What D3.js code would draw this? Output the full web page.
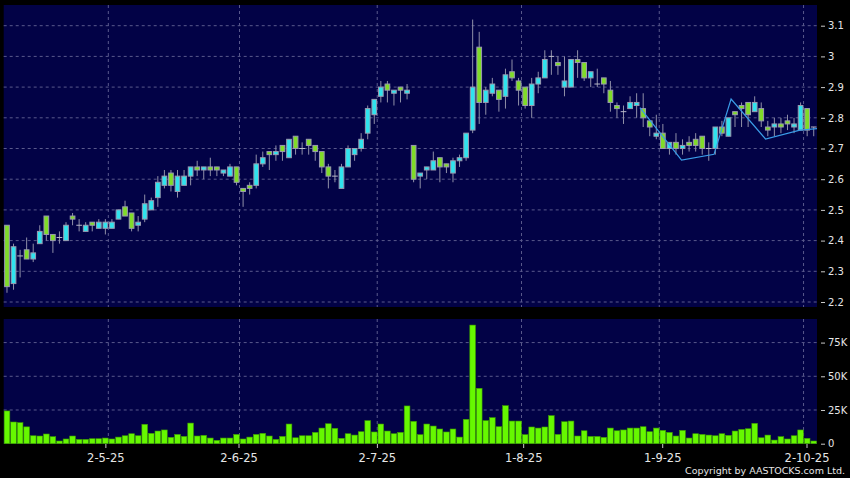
<!DOCTYPE html>
<html>
<head>
<meta charset="utf-8">
<script src="https://cdn.jsdelivr.net/npm/d3@7"></script>
<style>
  body { margin: 0; background: #000; }
  text { font-family: "DejaVu Sans", Verdana, sans-serif; fill: #e6e6e6; }
</style>
</head>
<body>
<svg id="chart" width="850" height="478"></svg>
<script>
// daily candles, index 0 .. 123
var opens  = [2.45,2.26,2.35,2.37,2.34,2.39,2.48,2.42,2.41,2.40,2.48,2.45,2.43,2.46,2.44,2.44,2.44,2.47,2.51,2.49,
              2.45,2.47,2.50,2.54,2.58,2.62,2.56,2.58,2.61,2.64,2.63,2.64,2.64,2.62,2.61,2.64,2.57,2.58,2.58,2.65,
              2.69,2.68,2.71,2.67,2.74,2.70,2.73,2.71,2.69,2.64,2.61,2.57,2.64,2.68,2.70,2.75,2.81,2.87,2.91,2.88,
              2.90,2.88,2.71,2.61,2.63,2.63,2.67,2.65,2.62,2.66,2.67,2.76,3.03,2.85,2.88,2.89,2.87,2.95,2.92,2.90,
              2.84,2.91,2.93,3.00,2.98,2.90,2.90,2.99,2.98,2.93,2.91,2.93,2.89,2.84,2.82,2.83,2.84,2.83,2.79,2.74,
              2.75,2.70,2.72,2.70,2.72,2.73,2.74,2.70,2.70,2.77,2.74,2.82,2.84,2.85,2.82,2.83,2.77,2.77,2.78,2.79,
              2.77,2.76,2.83,2.77];
var highs  = [2.45,2.39,2.37,2.41,2.39,2.45,2.48,2.42,2.43,2.46,2.49,2.47,2.46,2.46,2.47,2.47,2.47,2.50,2.53,2.49,
              2.48,2.55,2.54,2.61,2.63,2.63,2.63,2.63,2.64,2.66,2.64,2.67,2.64,2.63,2.65,2.64,2.57,2.59,2.68,2.69,
              2.69,2.71,2.71,2.73,2.74,2.72,2.73,2.71,2.69,2.65,2.63,2.65,2.71,2.70,2.75,2.84,2.86,2.92,2.92,2.89,
              2.90,2.91,2.71,2.62,2.64,2.69,2.67,2.65,2.67,2.68,2.75,3.12,3.08,2.90,2.93,2.89,2.96,2.99,2.93,2.90,
              2.93,2.95,3.02,3.02,3.00,3.00,2.99,3.02,2.98,2.95,2.96,2.93,2.92,2.85,2.84,2.87,2.88,2.88,2.79,2.81,
              2.78,2.72,2.75,2.73,2.74,2.75,2.74,2.72,2.77,2.79,2.80,2.82,2.85,2.85,2.87,2.85,2.79,2.80,2.80,2.81,
              2.80,2.85,2.83,2.77];
var lows   = [2.23,2.24,2.28,2.34,2.33,2.39,2.40,2.36,2.39,2.40,2.45,2.43,2.43,2.43,2.44,2.42,2.44,2.47,2.48,2.43,
              2.43,2.46,2.50,2.51,2.57,2.56,2.54,2.58,2.58,2.61,2.60,2.61,2.61,2.61,2.61,2.58,2.51,2.55,2.57,2.64,
              2.63,2.66,2.66,2.67,2.68,2.68,2.68,2.66,2.62,2.57,2.59,2.57,2.64,2.66,2.69,2.73,2.78,2.85,2.85,2.84,
              2.85,2.86,2.59,2.57,2.60,2.63,2.59,2.62,2.59,2.64,2.66,2.75,2.78,2.81,2.87,2.82,2.83,2.92,2.84,2.83,
              2.80,2.88,2.93,2.94,2.94,2.87,2.90,2.93,2.92,2.90,2.90,2.88,2.82,2.80,2.78,2.83,2.80,2.77,2.74,2.73,
              2.70,2.68,2.68,2.68,2.69,2.69,2.68,2.66,2.68,2.74,2.74,2.77,2.77,2.77,2.82,2.77,2.74,2.74,2.75,2.76,
              2.75,2.76,2.74,2.74];
var closes = [2.25,2.38,2.35,2.34,2.36,2.43,2.42,2.40,2.41,2.45,2.47,2.45,2.45,2.45,2.46,2.46,2.46,2.50,2.48,2.44,
              2.46,2.52,2.53,2.59,2.61,2.58,2.61,2.61,2.64,2.63,2.64,2.63,2.63,2.63,2.64,2.59,2.56,2.57,2.65,2.67,
              2.68,2.69,2.69,2.73,2.70,2.70,2.71,2.69,2.64,2.61,2.61,2.64,2.70,2.70,2.73,2.83,2.86,2.90,2.89,2.89,
              2.89,2.89,2.60,2.62,2.64,2.66,2.64,2.64,2.66,2.67,2.75,2.90,2.85,2.89,2.91,2.86,2.94,2.93,2.89,2.84,
              2.91,2.93,2.99,3.00,2.97,2.92,2.99,2.98,2.93,2.95,2.91,2.91,2.85,2.83,2.82,2.85,2.85,2.80,2.77,2.75,
              2.70,2.72,2.70,2.71,2.71,2.71,2.70,2.70,2.77,2.75,2.80,2.81,2.83,2.81,2.85,2.79,2.76,2.78,2.77,2.78,
              2.78,2.84,2.76,2.77];
// volume in thousands of shares
var volumes = [24.3,16.1,15.6,12.5,5.9,5.7,7.2,5.2,2.0,3.5,5.7,3.2,3.2,3.7,3.7,4.2,3.5,4.9,5.9,7.4,
               5.9,14.4,7.7,9.4,10.2,4.7,6.9,5.4,15.3,5.7,6.2,4.2,2.5,4.2,4.2,6.9,3.5,4.9,6.9,7.7,
               5.7,3.2,5.4,14.6,4.4,5.9,5.9,8.4,11.6,14.8,11.4,4.0,7.4,6.4,8.9,17.1,8.7,14.6,9.4,7.4,
               8.4,28.0,16.6,6.7,14.6,13.1,10.9,8.7,10.9,4.9,18.1,88.0,41.1,17.1,19.3,12.6,28.2,16.8,16.8,6.7,
               12.4,11.6,12.4,20.8,6.9,16.3,16.8,5.7,9.6,5.4,5.4,4.7,11.6,9.6,10.2,11.6,11.6,12.6,8.9,11.6,
               9.9,8.4,5.7,9.9,4.2,7.4,6.9,6.4,5.9,7.4,6.2,9.4,10.6,11.1,15.1,4.4,6.4,2.7,5.2,3.5,
               5.9,10.2,4.0,2.0];

// month starts: label, candle index, label position (index units)
var dateLabels = ["2-5-25", "2-6-25", "2-7-25", "1-8-25", "1-9-25", "2-10-25"];
var dateIdx    = [15, 35, 56, 78, 99, 121];
var dateLabelPos = [15.0, 35.3, 56.4, 78.7, 99.9, 121.9];

var priceTicks = [2.2, 2.3, 2.4, 2.5, 2.6, 2.7, 2.8, 2.9, 3.0, 3.1];
var volTicks = [0, 25, 50, 75];

// zig-zag overlay line
var zzIdx   = [96.5, 102.85, 107.8, 110.4, 115.65, 120.9, 123.6];
var zzPrice = [2.833, 2.662, 2.681, 2.861, 2.731, 2.76, 2.765];

var svg = d3.select("#chart");
var left = 3.7, right = 817;
var mainTop = 5, mainBottom = 307, volTop = 319, volBottom = 444;

var x = d3.scaleLinear().domain([-0.5, opens.length - 0.5]).range([left, right]);
var y = d3.scaleLinear().domain([2.2, 3.1]).range([302, 25.7]);
var yv = d3.scaleLinear().domain([0, 92.5]).range([443.7, 319]);

var bg = "#020246", gridColor = "#5a5a8c";
var upColor = "#2fe3ee", downColor = "#80dc28";

svg.append("rect").attr("width", 850).attr("height", 478).attr("fill", "#000");

// panels
svg.append("rect").attr("x", left).attr("y", mainTop)
    .attr("width", right - left).attr("height", mainBottom - mainTop).attr("fill", bg);
svg.append("rect").attr("x", left).attr("y", volTop)
    .attr("width", right - left).attr("height", volBottom - volTop).attr("fill", bg);

svg.append("clipPath").attr("id", "mainClip").append("rect")
    .attr("x", left).attr("y", mainTop).attr("width", right - left).attr("height", mainBottom - mainTop);

// grid lines
var grid = svg.append("g").attr("stroke", gridColor).attr("stroke-dasharray", "3,3").attr("stroke-width", 1);
grid.selectAll(".hp").data(priceTicks).enter().append("line")
    .attr("x1", left).attr("x2", right)
    .attr("y1", function(d) { return y(d); }).attr("y2", function(d) { return y(d); });
grid.selectAll(".hv").data(volTicks.slice(1)).enter().append("line")
    .attr("x1", left).attr("x2", right)
    .attr("y1", function(d) { return yv(d); }).attr("y2", function(d) { return yv(d); });
dateIdx.forEach(function(i) {
    var gx = x(i + 0.45);
    grid.append("line").attr("x1", gx).attr("x2", gx).attr("y1", mainTop).attr("y2", mainBottom);
    grid.append("line").attr("x1", gx).attr("x2", gx).attr("y1", volTop).attr("y2", volBottom);
});

// candles
var bodyW = 4.7;
var candles = svg.append("g").attr("clip-path", "url(#mainClip)")
    .selectAll("g").data(opens).enter().append("g");

candles.append("line")
    .attr("x1", function(d, i) { return x(i); })
    .attr("x2", function(d, i) { return x(i); })
    .attr("y1", function(d, i) { return y(highs[i]); })
    .attr("y2", function(d, i) { return y(lows[i]); })
    .attr("stroke", "#9090a8").attr("stroke-width", 1);

candles.each(function(o, i) {
    var c = closes[i], g = d3.select(this);
    if (o === c) {
        g.append("line")
            .attr("x1", x(i) - bodyW / 2 - 0.5).attr("x2", x(i) + bodyW / 2 + 0.5)
            .attr("y1", y(o)).attr("y2", y(o))
            .attr("stroke", "#b8b8c8").attr("stroke-width", 1);
    } else {
        g.append("rect")
            .attr("x", x(i) - bodyW / 2)
            .attr("y", y(Math.max(o, c)))
            .attr("width", bodyW)
            .attr("height", Math.abs(y(o) - y(c)))
            .attr("fill", c > o ? upColor : downColor)
            .attr("stroke", "#9a9ab0").attr("stroke-width", 1);
    }
});

// zig-zag line
svg.append("path")
    .datum(zzIdx.map(function(d, k) { return [d, zzPrice[k]]; }))
    .attr("clip-path", "url(#mainClip)")
    .attr("fill", "none").attr("stroke", "#3a9be6").attr("stroke-width", 1.2)
    .attr("d", d3.line().x(function(d) { return x(d[0]); }).y(function(d) { return y(d[1]); }));

// volume bars
var barW = 5.7;
svg.append("g").selectAll("rect").data(volumes).enter().append("rect")
    .attr("x", function(d, i) { return x(i) - barW / 2; })
    .attr("y", function(d) { return yv(d); })
    .attr("width", barW)
    .attr("height", function(d) { return yv(0) - yv(d); })
    .attr("fill", "#66f800").attr("stroke", "#3c9a00").attr("stroke-width", 0.6);

// right axes
var priceAxis = svg.append("g").attr("transform", "translate(821,0)")
    .call(d3.axisRight(y).tickValues(priceTicks).tickSize(4).tickPadding(3)
        .tickFormat(function(d) { return String(+d.toFixed(1)); }));
var volAxis = svg.append("g").attr("transform", "translate(821,0)")
    .call(d3.axisRight(yv).tickValues(volTicks).tickSize(4).tickPadding(3)
        .tickFormat(function(d) { return d === 0 ? "0" : d + "K"; }));
[priceAxis, volAxis].forEach(function(a) {
    a.select(".domain").remove();
    a.selectAll("line").attr("stroke", "#c8c8c8");
    a.selectAll("text").attr("fill", "#e6e6e6").style("font-size", "10px")
        .style("font-family", "'DejaVu Sans', Verdana, sans-serif");
});

// date axis
var dateAxis = svg.append("g").attr("transform", "translate(0," + volBottom + ")")
    .call(d3.axisBottom(x).tickValues(dateLabelPos).tickSize(4).tickPadding(6)
        .tickFormat(function(d, k) { return dateLabels[k]; }));
dateAxis.select(".domain").remove();
dateAxis.selectAll("line").attr("stroke", "#c8c8c8");
dateAxis.selectAll("text").attr("fill", "#e6e6e6").style("font-size", "11.5px")
    .style("font-family", "'DejaVu Sans', Verdana, sans-serif");

svg.append("text").attr("x", 845).attr("y", 474).attr("text-anchor", "end")
    .style("font-size", "9.5px").text("Copyright by AASTOCKS.com Ltd.");
</script>
</body>
</html>
